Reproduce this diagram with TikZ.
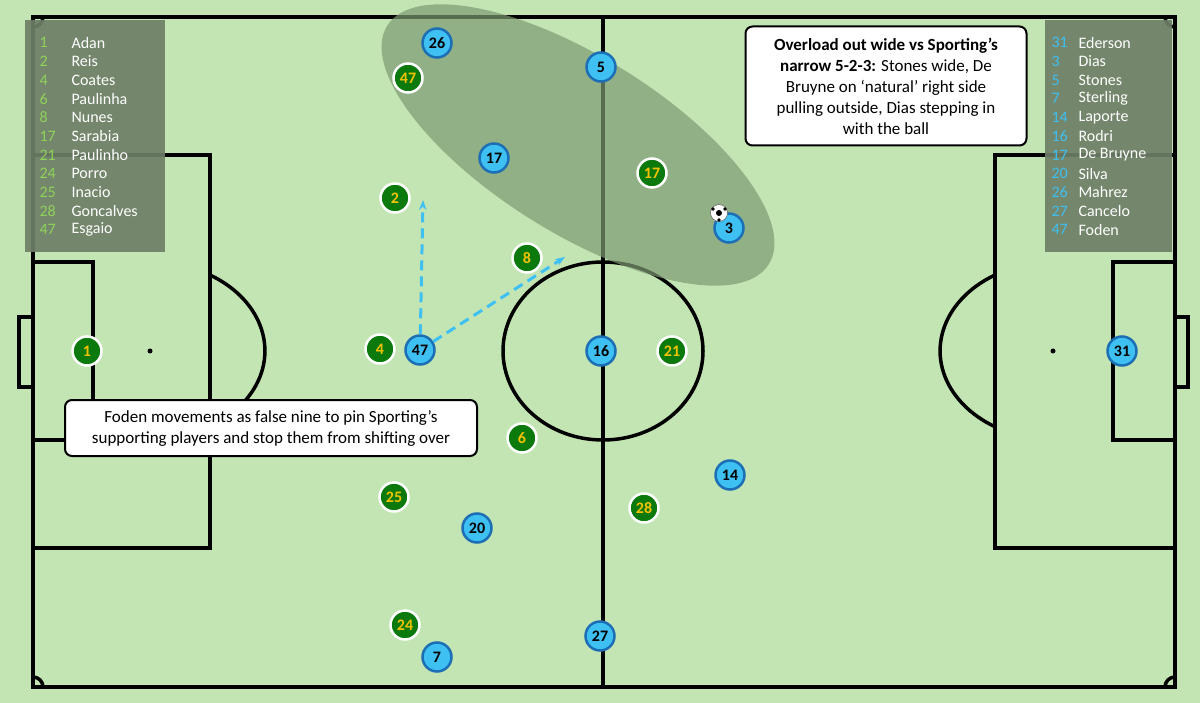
\documentclass[tikz,border=0pt]{standalone}
\usepackage{fontspec}
\setmainfont{Carlito}
\usetikzlibrary{arrows.meta}
\definecolor{grass}{HTML}{C3E5B3}
\definecolor{legbg}{HTML}{6E7E66}
\definecolor{legnum}{HTML}{8FD35A}
\definecolor{sgreen}{HTML}{0B790B}
\definecolor{sgold}{HTML}{F2C200}
\definecolor{cblue}{HTML}{3EC0F2}
\definecolor{cedge}{HTML}{1C6FB5}
\definecolor{zone}{HTML}{7E9A73}
\begin{document}
\begin{tikzpicture}[x=1pt,y=-1pt,
  line/.style={black, line width=3.5pt},
  scp/.style={circle, fill=sgreen, draw=white, line width=2.5pt, minimum size=29pt, inner sep=0pt, text=sgold, font=\fontsize{16}{18}\selectfont\bfseries},
  mci/.style={circle, fill=cblue, draw=cedge, line width=2.5pt, minimum size=29pt, inner sep=0pt, text=black, font=\fontsize{16}{18}\selectfont\bfseries},
  legname/.style={anchor=west, text=white, font=\fontsize{16}{18}\selectfont},
  run/.style={cblue, line width=3pt, dash pattern=on 10pt off 6pt, -{Stealth[length=10pt]}},
  note/.style={draw=black, fill=white, line width=2pt, rounded corners=7pt, align=center, font=\fontsize{17}{21}\selectfont}]

  \fill[grass] (0,0) rectangle (1200,703);
  \useasboundingbox (0,0) rectangle (1200,703);

  % pitch
  \draw[line] (33,17) rectangle (1175,687);
  \draw[line] (603,17) -- (603,687);
  \draw[line] (603,351) ellipse (100 and 89);
  \draw[line] (33,155) rectangle (210,548);
  \draw[line] (33,262) rectangle (93,440);
  \draw[line] (19,317) rectangle (33,387);
  \draw[line] (210,275) arc (-58.5:58.5:115 and 89);
  \draw[line] (995,155) rectangle (1175,548);
  \draw[line] (1113,262) rectangle (1175,440);
  \draw[line] (1175,317) rectangle (1188,387);
  \draw[line] (995,275) arc (238.5:121.5:115 and 89);
  \draw[line] (43,17) arc (0:90:10);
  \draw[line] (1165,17) arc (180:90:10);
  \draw[line] (43,687) arc (0:-90:10);
  \draw[line] (1165,687) arc (180:270:10);
  \fill (150,351) circle (2.5);
  \fill (1053,351) circle (2.5);

  % pressing zone
  \fill[zone, opacity=0.7, rotate around={-32:(578,145)}] (578,145) ellipse (225 and 88);

  % legends
  \fill[legbg, opacity=0.92] (25,20) rectangle (165,252);
  \fill[legbg, opacity=0.92] (1045,20) rectangle (1172,252);
  \foreach \n/\p [count=\i] in {1/Adan,2/Reis,4/Coates,6/Paulinha,8/Nunes,17/Sarabia,21/Paulinho,24/Porro,25/Inacio,28/Goncalves,47/Esgaio} {
    \node[legname, text=legnum] (ln\i) at (36,24+18.7*\i) {\n};
    \node[legname] (lp\i) at (68,24+18.7*\i) {\p};
  }
  \foreach \n/\p [count=\i] in {31/Ederson,3/Dias,5/Stones,7/Sterling,14/Laporte,16/Rodri,17/De Bruyne,20/Silva,26/Mahrez,27/Cancelo,47/Foden} {
    \node[legname, text=cblue] (rn\i) at (1048,24+18.7*\i) {\n};
    \node[legname] (rp\i) at (1075,24+18.7*\i) {\p};
  }

  % Sporting
  \foreach \n/\x/\y in {1/87/351,2/395/198,4/380/349,6/522/438,8/527/258,17/652/173,21/672/351,24/405/625,25/394/497,28/644/508,47/408/78}
    \node[scp] (s\n) at (\x,\y) {\n};

  % City
  \foreach \n/\x/\y in {26/437/43,5/601/67,17/494/158,3/729/228,16/601/351,47/420/350,14/730/475,20/477/528,27/600/636,7/437/657,31/1122/351}
    \node[mci] (c\n) at (\x,\y) {\n};

  % ball
  \node[circle, fill=white, draw=black!60, line width=0.6pt, minimum size=17pt, inner sep=0pt] (ball) at (719,213) {};
  \fill (719,213) circle (3);
  \fill (713,209) circle (1.8);
  \fill (725,209) circle (1.8);
  \fill (719,220) circle (1.8);

  % Foden runs
  \coordinate (runup) at (423,200);
  \coordinate (runin) at (565,257);
  \draw[run] (c47) -- (runup);
  \draw[run] (c47) -- (runin);

  % notes
  \node[note, minimum width=412pt, minimum height=56pt] (fnote) at (271,428)
    {Foden movements as false nine to pin Sporting’s\\supporting players and stop them from shifting over};
  \node[note, minimum width=281pt, minimum height=119pt] (onote) at (886,86)
    {\textbf{Overload out wide vs Sporting’s}\\\textbf{narrow 5-2-3:} Stones wide, De\\Bruyne on ‘natural’ right side\\pulling outside, Dias stepping in\\with the ball};
\end{tikzpicture}
\end{document}
